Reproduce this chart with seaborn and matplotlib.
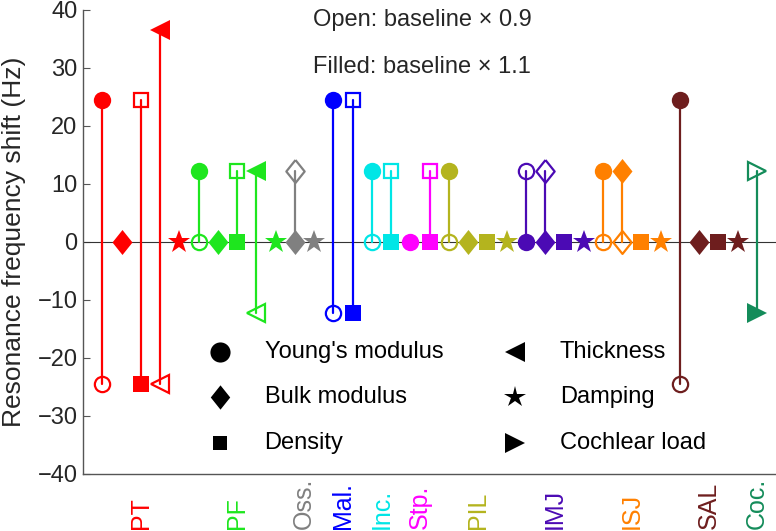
"""
plot.py - Resonance frequency shift per parameter and structure (stem chart).
"""
import numpy as np
import pandas as pd
import matplotlib
matplotlib.use("Agg")
import matplotlib.pyplot as plt
import seaborn as sns

# --- data -------------------------------------------------------------
groups = ["PT", "PF", "Oss.", "Mal.", "Inc.", "Stp.", "PIL", "IMJ", "ISJ", "SAL", "Coc."]
group_colors = ["#ff0000", "#1ee61e", "#808080", "#0000ff", "#00e6e6", "#ff00ff",
                "#b4b41e", "#4b0ab4", "#ff8000", "#6e1e1e", "#148c5a"]

# one stem per (structure, parameter), left to right
stem_group = (["PT"] * 5 + ["PF"] * 5 + ["Oss."] * 2 + ["Mal."] * 2 + ["Inc."] * 2
              + ["Stp."] * 2 + ["PIL"] * 4 + ["IMJ"] * 4 + ["ISJ"] * 4 + ["SAL"] * 4 + ["Coc."])
stem_param = ["Y", "B", "D", "T", "S",
              "Y", "B", "D", "T", "S",
              "B", "S",
              "Y", "D",
              "Y", "D",
              "Y", "D",
              "Y", "B", "D", "S",
              "Y", "B", "D", "S",
              "Y", "B", "D", "S",
              "Y", "B", "D", "S",
              "C"]
# baseline x 1.1 (filled) and baseline x 0.9 (open), Hz
filled_shift = [24.4, 0, -24.4, 36.6, 0,
                12.2, 0, 0, 12.2, 0,
                0, 0,
                24.4, -12.2,
                12.2, 0,
                0, 0,
                12.2, 0, 0, 0,
                0, 0, 0, 0,
                12.2, 12.2, 0, 0,
                24.4, 0, 0, 0,
                -12.2]
open_shift = [-24.4, 0, 24.4, -24.4, 0,
              0, 0, 12.2, -12.2, 0,
              12.2, 0,
              -12.2, 24.4,
              0, 12.2,
              0, 12.2,
              0, 0, 0, 0,
              12.2, 12.2, 0, 0,
              0, 0, 0, 0,
              -24.4, 0, 0, 0,
              12.2]

param_names = {"Y": "Young's modulus", "B": "Bulk modulus", "D": "Density",
               "T": "Thickness", "S": "Damping", "C": "Cochlear load"}

# --- styles -----------------------------------------------------------
diamond = [(0, 1), (0.8, 0), (0, -1), (-0.8, 0), (0, 1)]
markers = {"Y": ("o", 12.5), "B": (diamond, 18), "D": ("s", 11),
           "T": ("<", 14.5), "S": ("*", 17), "C": (">", 14.5)}
legend_sizes = {"Y": 14.5, "B": 17.5, "D": 9.8, "T": 14.5, "S": 16, "C": 14.5}
color_of = dict(zip(groups, group_colors))

df = pd.DataFrame({"group": stem_group, "param": stem_param,
                   "filled": filled_shift, "open": open_shift})
df["slot"] = np.arange(1, len(df) + 1)

sns.set_theme(style="white")
plt.rcParams["font.family"] = ["Liberation Sans", "DejaVu Sans"]

fig = plt.figure(figsize=(7.76, 5.31), dpi=100)
ax = fig.add_axes([83 / 776, 57 / 531, 693 / 776, 464 / 531])

ax.axhline(0, color="#333333", lw=0.8, zorder=1)

for _, r in df.iterrows():
    col = color_of[r["group"]]
    m, ms = markers[r["param"]]
    if r["open"] != r["filled"]:
        ax.plot([r["slot"], r["slot"]], [r["open"], r["filled"]], color=col, lw=1.6, zorder=2)
        ax.plot(r["slot"], r["open"], marker=m, ms=ms - 1.5, mfc="none", mec=col,
                mew=1.6, ls="none", zorder=3)
    ax.plot(r["slot"], r["filled"], marker=m, ms=ms, mfc=col, mec=col, mew=0,
            ls="none", zorder=4)

# structure labels under the axis
centres = df.groupby("group", sort=False)["slot"].mean()
for g in groups:
    ax.text(centres[g], -0.118, g, transform=ax.get_xaxis_transform(), rotation=90,
            ha="center", va="bottom", fontsize=18, color=color_of[g], clip_on=False)

# marker key
key_left = ["Y", "B", "D"]
key_right = ["T", "S", "C"]
rows_y = [0.263, 0.166, 0.067]
for keys, mx, tx in [(key_left, 0.198, 0.262), (key_right, 0.623, 0.688)]:
    for k, yy in zip(keys, rows_y):
        m, _ = markers[k]
        ax.plot(mx, yy, marker=m, ms=legend_sizes[k], color="black", mew=0,
                ls="none", transform=ax.transAxes, zorder=5)
        ax.text(tx, yy, param_names[k], transform=ax.transAxes, fontsize=17,
                va="center", ha="left", color="black")

ax.text(0.332, 0.9655, "Open: baseline \u00d7 0.9", transform=ax.transAxes,
        fontsize=17, va="baseline", ha="left")
ax.text(0.332, 0.8642, "Filled: baseline \u00d7 1.1", transform=ax.transAxes,
        fontsize=17, va="baseline", ha="left")

ax.set_xlim(0, 36)
ax.set_ylim(-40, 40)
ax.set_xticks([])
ax.set_yticks(np.arange(-40, 41, 10))
ax.tick_params(axis="y", direction="in", length=5, width=0.8, color="#555555",
               labelsize=17, pad=4, left=True)
for side in ["top", "right"]:
    ax.spines[side].set_visible(False)
for side in ["left", "bottom"]:
    ax.spines[side].set_color("#555555")
    ax.spines[side].set_linewidth(1.0)

ax.set_ylabel("Resonance frequency shift (Hz)", fontsize=19)
ax.yaxis.set_label_coords(-0.082, 0.5)

fig.savefig("out.png", dpi=100)
